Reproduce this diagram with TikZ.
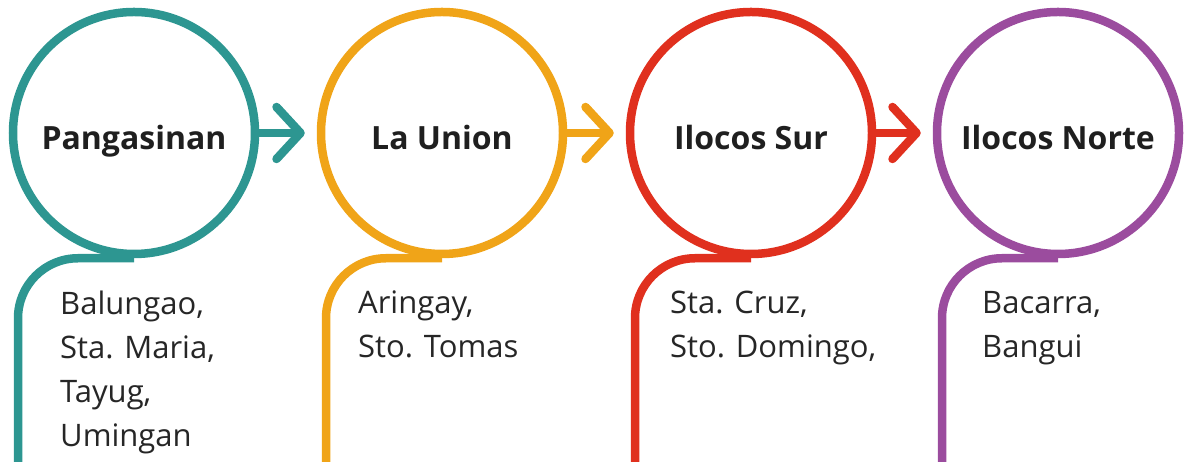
\documentclass[tikz,border=0pt]{standalone}
\usepackage{fontspec}
\setmainfont{Open Sans}
\usetikzlibrary{arrows.meta}

\definecolor{pangColor}{HTML}{2D9691}
\definecolor{unionColor}{HTML}{F0A418}
\definecolor{surColor}{HTML}{E0301E}
\definecolor{norteColor}{HTML}{9B4C9E}

\begin{document}
\begin{tikzpicture}
[x=1pt,y=1pt,
  circleDecorate/.style={shape=circle,minimum size=242pt,inner sep=0pt,line width=8.5pt},
  tailDecorate/.style={line width=8.5pt,rounded corners=60pt},
  arrowDecorate/.style={line width=8.5pt,-{Straight Barb[length=24pt,width=52pt,round]},shorten >=12pt},
  titleDecorate/.style={anchor=base,inner sep=0pt,font=\bfseries\fontsize{32}{38}\selectfont,text=black!88},
  listDecorate/.style={anchor=north west,inner sep=0pt,align=left,font=\fontsize{31}{44}\selectfont,text=black!85}]
\useasboundingbox (0,0) rectangle (1189,462);
\clip (0,0) rectangle (1189,462);
%% circles, titles and lists
\foreach \nodename/\x/\col/\title/\tx/\items in
  {Pangasinan/134/pangColor/Pangasinan/60/{Balungao,\\Sta. Maria,\\Tayug,\\Umingan},
   LaUnion/442/unionColor/La Union/358/{Aringay,\\Sto. Tomas},
   IlocosSur/751/surColor/Ilocos Sur/670/{Sta. Cruz,\\Sto. Domingo,},
   IlocosNorte/1058/norteColor/Ilocos Norte/982/{Bacarra,\\Bangui}}
{
  \node (\nodename) at (\x,329) [circleDecorate,draw=\col] {};
  \node (\nodename-title) at (\x,312) [titleDecorate] {\title};
  \node (\nodename-list) at (\tx,171) [listDecorate] {\items};
  \draw[tailDecorate,\col] (\nodename.south) -| ([xshift=-116pt]\nodename.south |- 0,-10);
}
%% arrows between circles
\path
\foreach \startnode/\endnode/\col in {Pangasinan/LaUnion/pangColor, LaUnion/IlocosSur/unionColor, IlocosSur/IlocosNorte/surColor}
{
  (\startnode) edge[arrowDecorate,\col] (\endnode)
};
\end{tikzpicture}
\end{document}
